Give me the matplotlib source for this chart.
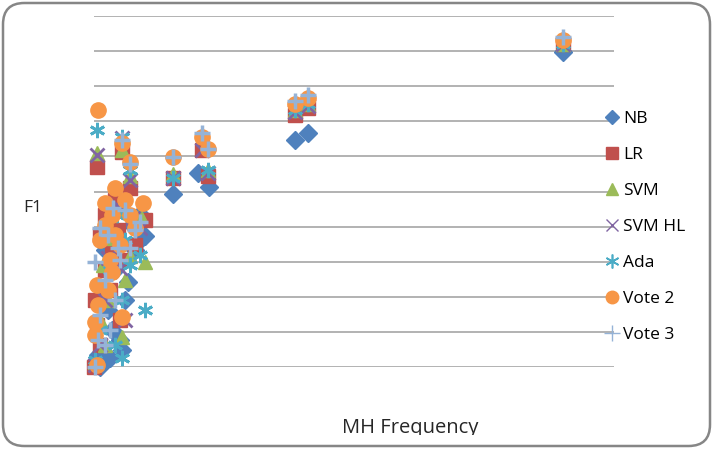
import matplotlib
matplotlib.use("Agg")
import matplotlib.pyplot as plt
from matplotlib.lines import Line2D
from matplotlib.patches import FancyBboxPatch
from matplotlib.transforms import Bbox

plt.rcParams['font.family'] = ['Open Sans', 'DejaVu Sans']

# F1 per classifier vs MH frequency
nb_x = [90.2, 38.7, 41.2, 15.2, 20.0, 22.1, 6.5, 5.4, 5.0, 8.8, 9.8, 1.2, 3.5, 2.7, 6.0, 4.0, 2.1, 7.3, 8.8, 4.6, 0.8, 3.1, 1.7, 7.9]
nb_y = [0.897, 0.647, 0.667, 0.493, 0.553, 0.513, 0.242, 0.048, 0.077, 0.362, 0.373, 0.0, 0.105, 0.162, 0.191, 0.276, 0.333, 0.405, 0.436, 0.462, 0.034, 0.026, 0.219, 0.333]

lr_x = [90.2, 38.7, 41.2, 15.2, 20.8, 21.9, 0.6, 5.4, 6.9, 1.2, 2.1, 9.8, 3.5, 0.2, 0.6, 1.2, 0.0, 5.0, 3.1, 6.0, 7.9, 4.0, 2.1, 4.6]
lr_y = [0.920, 0.718, 0.738, 0.538, 0.618, 0.544, 0.570, 0.613, 0.510, 0.376, 0.433, 0.419, 0.333, 0.191, 0.120, 0.063, 0.0, 0.134, 0.219, 0.305, 0.348, 0.476, 0.276, 0.390]

svm_x = [90.2, 38.7, 41.2, 15.2, 21.9, 0.6, 6.9, 5.4, 9.8, 8.8, 5.4, 2.7, 1.2, 3.7, 6.9, 0.2, 2.1, 4.6, 6.0, 1.7]
svm_y = [0.920, 0.732, 0.749, 0.550, 0.561, 0.610, 0.544, 0.618, 0.299, 0.433, 0.085, 0.191, 0.134, 0.368, 0.316, 0.014, 0.063, 0.447, 0.248, 0.291]

svmhl_x = [90.2, 38.7, 41.2, 15.2, 21.9, 20.8, 0.6, 5.4, 6.9, 3.5, 8.8, 2.1, 1.2, 5.0, 7.5, 0.2, 2.7, 4.4, 6.0]
svmhl_y = [0.920, 0.726, 0.744, 0.538, 0.553, 0.618, 0.604, 0.652, 0.533, 0.376, 0.396, 0.191, 0.063, 0.282, 0.425, 0.006, 0.311, 0.462, 0.134]

ada_x = [90.2, 38.7, 41.2, 15.2, 21.9, 0.6, 5.4, 6.9, 9.8, 5.4, 5.4, 4.0, 3.1, 1.2, 6.9, 2.1, 4.4, 8.8, 0.2, 6.0]
ada_y = [0.920, 0.732, 0.749, 0.538, 0.561, 0.675, 0.655, 0.561, 0.162, 0.191, 0.026, 0.063, 0.276, 0.105, 0.291, 0.390, 0.433, 0.319, 0.020, 0.362]

vote2_x = [90.2, 38.7, 41.2, 15.2, 20.8, 21.9, 0.8, 5.4, 6.9, 4.0, 2.1, 6.0, 9.4, 3.5, 6.9, 2.1, 4.0, 7.9, 1.2, 5.0, 3.1, 0.6, 2.7, 0.8, 5.4, 0.2, 0.2, 0.6, 3.5]
vote2_y = [0.932, 0.749, 0.766, 0.598, 0.655, 0.621, 0.732, 0.638, 0.584, 0.510, 0.467, 0.476, 0.467, 0.433, 0.433, 0.405, 0.376, 0.396, 0.362, 0.348, 0.305, 0.234, 0.219, 0.177, 0.142, 0.128, 0.091, 0.006, 0.271]

vote3_x = [90.2, 38.7, 41.2, 15.2, 20.8, 21.9, 5.4, 6.9, 3.7, 1.2, 6.0, 8.8, 2.7, 4.6, 6.9, 0.2, 2.1, 4.0, 1.2, 3.1, 0.8, 0.2, 5.0, 7.9, 2.1]
vote3_y = [0.940, 0.758, 0.775, 0.598, 0.667, 0.621, 0.647, 0.578, 0.453, 0.396, 0.447, 0.413, 0.376, 0.339, 0.339, 0.299, 0.248, 0.191, 0.148, 0.105, 0.077, 0.0, 0.305, 0.390, 0.063]

names = ["NB", "LR", "SVM", "SVM HL", "Ada", "Vote 2", "Vote 3"]

fig = plt.figure(figsize=(7.13, 4.49), dpi=100)
ax = fig.add_axes([94/713, 1-367/449, 520/713, 351/449])

ax.set_xlim(0, 100)
ax.set_ylim(0, 1.0)
for v in [i/10 for i in range(11)]:
    ax.axhline(v, color="#a6a6a6", lw=1.2, zorder=0)
for s in ax.spines.values():
    s.set_visible(False)
ax.set_xticks([])
ax.set_yticks([])

kw = dict(ls="none", clip_on=False)
ax.plot(nb_x, nb_y, marker="D", ms=9, color="#4f81bd", mec="#4f81bd", **kw)
ax.plot(lr_x, lr_y, marker="s", ms=10, color="#c0504d", mec="#c0504d", **kw)
ax.plot(svm_x, svm_y, marker="^", ms=10, color="#9bbb59", mec="#9bbb59", **kw)
ax.plot(svmhl_x, svmhl_y, marker="x", ms=10, mew=2, color="#8064a2", **kw)
ax.plot(ada_x, ada_y, marker=(6, 2, 0), ms=11, mew=2, color="#4bacc6", **kw)
ax.plot(vote2_x, vote2_y, marker="o", ms=11, color="#f79646", mec="#f79646", **kw)
ax.plot(vote3_x, vote3_y, marker="+", ms=12, mew=2.5, color="#95b3d7", **kw)

handles = [
    Line2D([], [], ls="none", marker="D", ms=7, color="#4f81bd"),
    Line2D([], [], ls="none", marker="s", ms=9, color="#c0504d"),
    Line2D([], [], ls="none", marker="^", ms=9, color="#9bbb59"),
    Line2D([], [], ls="none", marker="x", ms=9, mew=1, color="#8064a2"),
    Line2D([], [], ls="none", marker=(6, 2, 0), ms=10, mew=1.2, color="#4bacc6"),
    Line2D([], [], ls="none", marker="o", ms=9, color="#f79646"),
    Line2D([], [], ls="none", marker="+", ms=11, mew=1, color="#95b3d7"),
]
fig.legend(handles, names, loc="upper left", bbox_to_anchor=(605/713, 1-110.5/449),
           frameon=False, fontsize=12.5, numpoints=1, handlelength=0.75,
           handletextpad=0.3, labelspacing=1.15, borderpad=0, borderaxespad=0)

fig.text(33/713, 1-207.5/449, "F1", fontsize=12.5, ha="center", va="center", color="#262626")
xl = fig.text(410/713, 1-433/449, "MH Frequency", fontsize=14.5, ha="center", va="baseline", color="#262626")
xl.set_clip_box(Bbox([[0, 14.5], [713, 449]]))
xl.set_clip_on(True)

border = FancyBboxPatch((3/713, 3/449), 707/713, 443/449, boxstyle="round,pad=0,rounding_size=0.03",
                        transform=fig.transFigure, fc="none", ec="#868686", lw=1.8,
                        mutation_aspect=713/449)
fig.patches.append(border)

fig.savefig("out.png", dpi=100)
